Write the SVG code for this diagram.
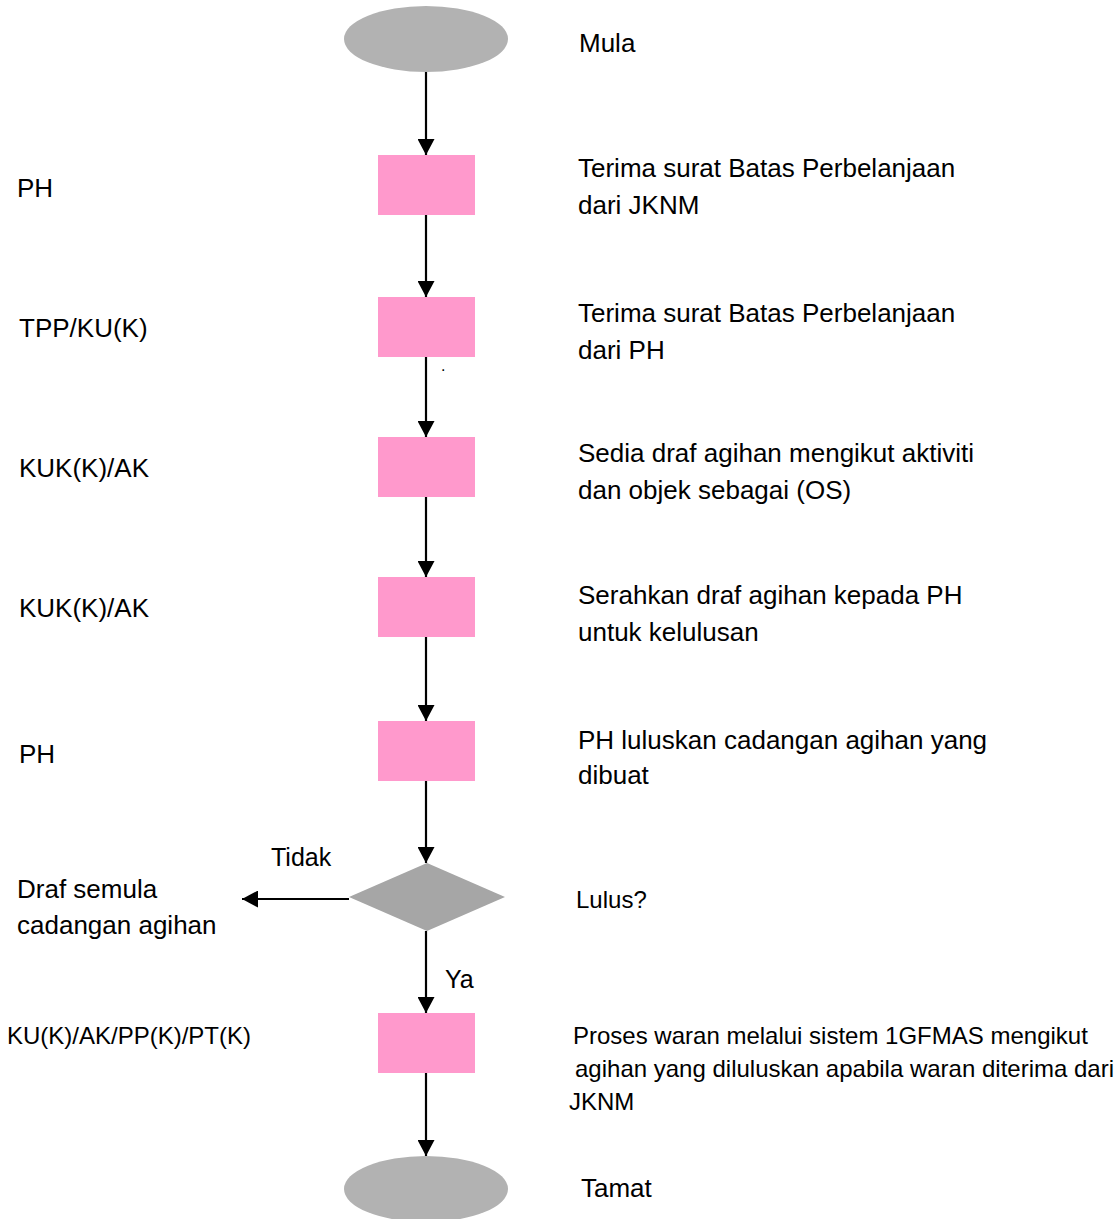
<svg xmlns="http://www.w3.org/2000/svg" width="1120" height="1219" viewBox="0 0 1120 1219">
<defs>
<style>
text{font-family:"Liberation Sans",Arial,sans-serif;fill:#000;}
.t26{font-size:26px;}
.t24{font-size:24px;}
.t25{font-size:25px;}
.term{fill:#b2b2b2;}
.proc{fill:#ff99cc;}
.dec{fill:#a6a6a6;}
.conn{stroke:#000;stroke-width:2.2;fill:none;marker-end:url(#arr);}
</style>
<marker id="arr" markerUnits="userSpaceOnUse" markerWidth="16" markerHeight="17" viewBox="0 0 16 17" refX="16" refY="8.5" orient="auto">
<path d="M0,0 L16,8.5 L0,17 z" fill="#000"/>
</marker>
</defs>
<rect width="1120" height="1219" fill="#fff"/>
<g id="connectors">
<line class="conn" x1="426" y1="72" x2="426" y2="155"/>
<line class="conn" x1="426" y1="215" x2="426" y2="297"/>
<line class="conn" x1="426" y1="357" x2="426" y2="437"/>
<line class="conn" x1="426" y1="497" x2="426" y2="577"/>
<line class="conn" x1="426" y1="637" x2="426" y2="721"/>
<line class="conn" x1="426" y1="781" x2="426" y2="863"/>
<line class="conn" x1="426" y1="931" x2="426" y2="1013"/>
<line class="conn" x1="426" y1="1073" x2="426" y2="1156"/>
<line class="conn" x1="349" y1="899" x2="242" y2="899"/>
<text class="t25" x="271" y="866">Tidak</text>
<text class="t25" x="445" y="988">Ya</text>
</g>
<g id="start">
<ellipse class="term" cx="426" cy="39" rx="82" ry="33"/>
<text class="t26" x="579" y="52">Mula</text>
</g>
<g id="step1">
<rect class="proc" x="378" y="155" width="97" height="60"/>
<text class="t26" x="17" y="197">PH</text>
<text class="t26" x="578" y="177">Terima surat Batas Perbelanjaan</text>
<text class="t26" x="578" y="214">dari JKNM</text>
</g>
<g id="step2">
<rect class="proc" x="378" y="297" width="97" height="60"/>
<text class="t26" x="19" y="337">TPP/KU(K)</text>
<text class="t26" x="578" y="322">Terima surat Batas Perbelanjaan</text>
<text class="t26" x="578" y="359">dari PH</text>
<text x="441" y="371" font-size="16">.</text>
</g>
<g id="step3">
<rect class="proc" x="378" y="437" width="97" height="60"/>
<text class="t26" x="19" y="477">KUK(K)/AK</text>
<text class="t26" x="578" y="462">Sedia draf agihan mengikut aktiviti</text>
<text class="t26" x="578" y="499">dan objek sebagai (OS)</text>
</g>
<g id="step4">
<rect class="proc" x="378" y="577" width="97" height="60"/>
<text class="t26" x="19" y="617">KUK(K)/AK</text>
<text class="t26" x="578" y="604">Serahkan draf agihan kepada PH</text>
<text class="t26" x="578" y="641">untuk kelulusan</text>
</g>
<g id="step5">
<rect class="proc" x="378" y="721" width="97" height="60"/>
<text class="t26" x="19" y="763">PH</text>
<text class="t26" x="578" y="749">PH luluskan cadangan agihan yang</text>
<text class="t26" x="578" y="784">dibuat</text>
</g>
<g id="decision">
<polygon class="dec" points="427,863 505,897 427,931 349,897"/>
<text class="t24" x="576" y="908">Lulus?</text>
</g>
<g id="redraft">
<text class="t26" x="17" y="898">Draf semula</text>
<text class="t26" x="17" y="934">cadangan agihan</text>
</g>
<g id="step6">
<rect class="proc" x="378" y="1013" width="97" height="60"/>
<text class="t24" x="7" y="1044">KU(K)/AK/PP(K)/PT(K)</text>
<text class="t24" x="573" y="1044">Proses waran melalui sistem 1GFMAS mengikut</text>
<text class="t24" x="575" y="1077">agihan yang diluluskan apabila waran diterima dari</text>
<text class="t24" x="569" y="1110">JKNM</text>
</g>
<g id="end">
<ellipse class="term" cx="426" cy="1189" rx="82" ry="33"/>
<text class="t26" x="581" y="1197">Tamat</text>
</g>
</svg>
